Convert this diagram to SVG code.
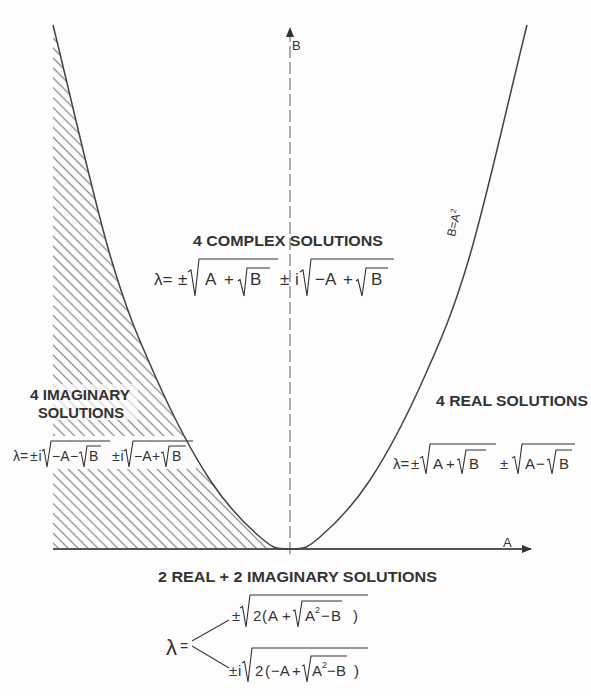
<svg xmlns="http://www.w3.org/2000/svg" width="591" height="696" viewBox="0 0 591 696">
<style>
.t{font-family:"Liberation Sans",Arial,sans-serif;fill:#333;}
.h{font-weight:bold;font-size:14px;}
.f{font-size:15px;}
.rad{fill:none;stroke:#333;stroke-width:1.1;stroke-linejoin:miter;}
.curve{fill:none;stroke:#444;stroke-width:1.5;}
</style>
<defs>
<pattern id="hatch" width="7" height="7" patternUnits="userSpaceOnUse" patternTransform="rotate(45)">
<line x1="0" y1="3.5" x2="7" y2="3.5" stroke="#8c8c8c" stroke-width="1.3"/>
</pattern>
<marker id="arr" markerWidth="10" markerHeight="8" refX="9" refY="4" orient="auto" markerUnits="userSpaceOnUse">
<path d="M0,0 L10,4 L0,8 Z" fill="#333"/>
</marker>
</defs>
<rect width="591" height="696" fill="#fdfdfd"/>

<g id="hatched-region">
<path d="M53,25 C72,101.7 92.7,195.8 110,255 C127.3,314.2 140.3,342.5 157,380 C173.7,417.5 192.8,453.8 210,480 C227.2,506.2 246.7,525.5 260,537 C273.3,548.5 275,549 290,549 L53,549 Z" fill="url(#hatch)"/>
<rect x="26" y="384" width="112" height="36" fill="#fdfdfd" opacity="0.65"/>
<rect x="10" y="436" width="186" height="33" fill="#fdfdfd" opacity="0.95"/>
</g>

<g id="axes">
<line x1="53" y1="549" x2="531" y2="549" stroke="#555" stroke-width="2" marker-end="url(#arr)"/>
<line x1="290" y1="554" x2="290" y2="28" stroke="#777" stroke-width="1.2" stroke-dasharray="12 4" marker-end="url(#arr)"/>
<text class="t" x="503" y="547" font-size="13">A</text>
<text class="t" x="292" y="50" font-size="13">B</text>
</g>

<g id="curves">
<path class="curve" d="M53,25 C72,101.7 92.7,195.8 110,255 C127.3,314.2 140.3,342.5 157,380 C173.7,417.5 192.8,453.8 210,480 C227.2,506.2 246.7,525.5 260,537 C273.3,548.5 275,549 290,549"/>
<path class="curve" d="M290,549 C305,549 306.7,548.5 320,537 C333.3,525.5 352.8,506.2 370,480 C387.2,453.8 406.3,417.5 423,380 C439.7,342.5 452.7,314.2 470,255 C487.3,195.8 508,101.7 527,25"/>
<text class="t" transform="translate(458,224) rotate(-76)" text-anchor="middle" font-size="12">B=A<tspan dy="-5" font-size="8">2</tspan></text>
</g>

<g id="complex">
<text class="t h" x="193" y="246" textLength="190" lengthAdjust="spacingAndGlyphs">4 COMPLEX SOLUTIONS</text>
<g class="t" font-size="17">
<text x="154" y="285">λ=</text>
<text x="178" y="285">±</text>
<text x="205" y="285">A</text>
<text x="224" y="285">+</text>
<text x="250" y="285">B</text>
<text x="280" y="285">±</text>
<text x="295" y="285">i</text>
<text x="315" y="285">−A</text>
<text x="343" y="285">+</text>
<text x="371" y="285">B</text>
</g>
<path class="rad" d="M188,272 l3,-2 L195,296 L199,259 H278"/>
<path class="rad" d="M238,281 l2,-1.5 L244,296 L247,268 H270"/>
<path class="rad" d="M300,272 l3,-2 L307,296 L311,259 H394"/>
<path class="rad" d="M356,281 l2,-1.5 L362,296 L366,268 H388"/>
</g>

<g id="imaginary">
<text class="t h" x="30" y="400" textLength="100" lengthAdjust="spacingAndGlyphs">4 IMAGINARY</text>
<text class="t h" x="38" y="418" textLength="86" lengthAdjust="spacingAndGlyphs">SOLUTIONS</text>
<g class="t" font-size="14">
<text x="13" y="461">λ=</text>
<text x="30" y="461">±</text>
<text x="38.5" y="461">i</text>
<text x="52" y="461">−A</text>
<text x="70" y="461">−</text>
<text x="89" y="461">B</text>
<text x="112" y="461">±</text>
<text x="120.5" y="461">i</text>
<text x="134" y="461">−A</text>
<text x="152" y="461">+</text>
<text x="172" y="461">B</text>
</g>
<path class="rad" d="M42,451 l2,-1.5 L47,467 L51,441 H110"/>
<path class="rad" d="M79,453 l2,-1 L84,467 L87,446 H101"/>
<path class="rad" d="M124,451 l2,-1.5 L129,467 L133,441 H193"/>
<path class="rad" d="M161,453 l2,-1 L166,467 L169,446 H186"/>
</g>

<g id="real">
<text class="t h" x="436" y="406" textLength="152" lengthAdjust="spacingAndGlyphs">4 REAL SOLUTIONS</text>
<g class="t f">
<text x="393" y="469">λ=</text>
<text x="411" y="469">±</text>
<text x="433" y="469">A</text>
<text x="446" y="469">+</text>
<text x="469" y="469">B</text>
<text x="500" y="469">±</text>
<text x="525" y="469">A</text>
<text x="536" y="469">−</text>
<text x="559" y="469">B</text>
</g>
<path class="rad" d="M420,458 l2.5,-1.5 L426,474 L430,444 H496"/>
<path class="rad" d="M457,460 l2,-1 L462,474 L466,450 H486"/>
<path class="rad" d="M512,458 l2.5,-1.5 L518,474 L522,444 H575"/>
<path class="rad" d="M547,460 l2,-1 L552,474 L556,450 H572"/>
</g>

<g id="two-real-two-imaginary">
<text class="t h" x="158" y="582" textLength="279" lengthAdjust="spacingAndGlyphs">2 REAL + 2 IMAGINARY SOLUTIONS</text>
<text class="t" x="166" y="655" font-size="22">λ</text>
<text class="t" x="180" y="651" font-size="14">=</text>
<line x1="192" y1="641" x2="229" y2="620" stroke="#444" stroke-width="1.3"/>
<line x1="192" y1="646" x2="229" y2="668" stroke="#444" stroke-width="1.3"/>
<g class="t f">
<text x="232" y="621">±</text>
<text x="253" y="621">2</text>
<text x="262" y="621">(</text>
<text x="268" y="621">A</text>
<text x="282" y="621">+</text>
<text x="305" y="621">A<tspan dy="-8" font-size="9">2</tspan></text>
<text x="321" y="621">−</text>
<text x="331" y="621">B</text>
<text x="353" y="621">)</text>
<text x="229" y="676">±</text>
<text x="238" y="676">i</text>
<text x="255" y="676">2</text>
<text x="265" y="676">(</text>
<text x="271" y="676">−A</text>
<text x="292" y="676">+</text>
<text x="312" y="676">A<tspan dy="-8" font-size="9">2</tspan></text>
<text x="327" y="676">−</text>
<text x="336" y="676">B</text>
<text x="354" y="676">)</text>
</g>
<path class="rad" d="M240,608 l2.5,-1.5 L246,627 L250,595 H368"/>
<path class="rad" d="M293,611 l2,-1 L298,627 L302,601 H342"/>
<path class="rad" d="M242,663 l2.5,-1.5 L248,682 L252,648 H368"/>
<path class="rad" d="M302,666 l2,-1 L307,682 L311,656 H347"/>
</g>
</svg>
